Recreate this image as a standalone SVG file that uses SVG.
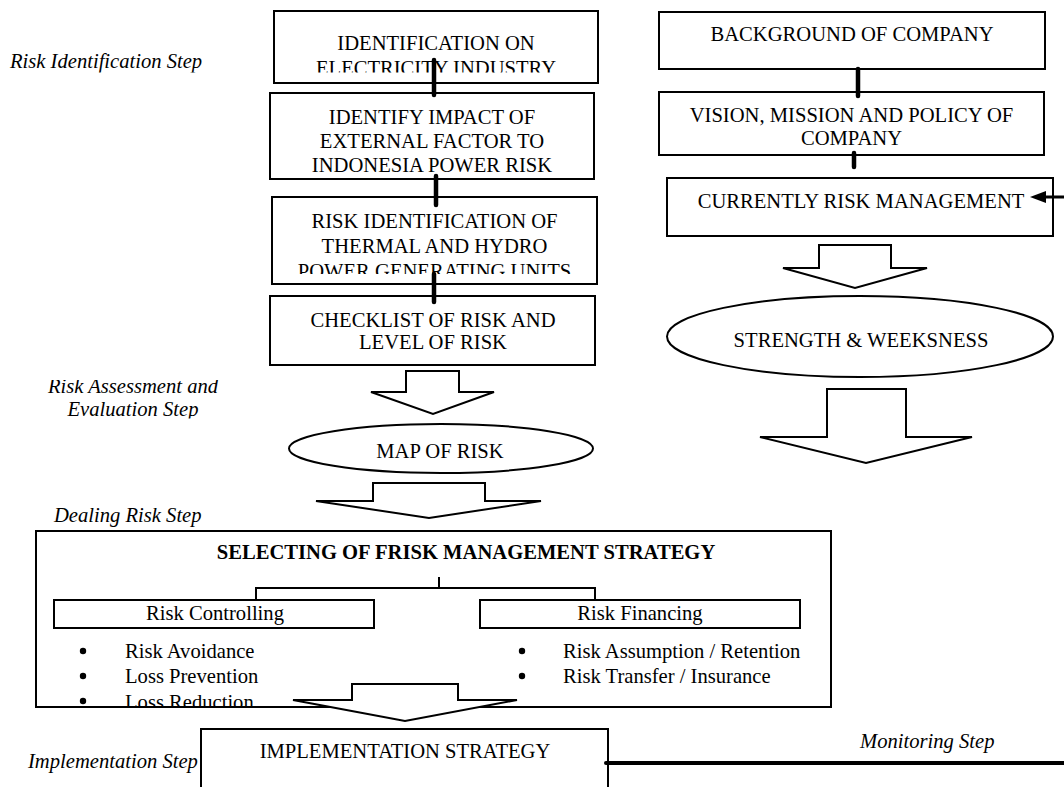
<svg xmlns="http://www.w3.org/2000/svg" width="1064" height="787" viewBox="0 0 1064 787">
<defs>
<style>
.box{fill:#fff;stroke:#000;stroke-width:2}
.t{font-family:"Liberation Serif","Times New Roman",serif;font-size:20.6px;fill:#000;text-anchor:middle}
.s{font-family:"Liberation Serif","Times New Roman",serif;font-size:20.6px;fill:#000}
.lbl{font-family:"Liberation Serif","Times New Roman",serif;font-size:20.6px;font-style:italic;fill:#000}
.b{font-weight:bold}
.conn{stroke:#000;stroke-width:4.5;stroke-linecap:round;fill:none}
.thin{stroke:#000;stroke-width:2;fill:none}
.barrow{fill:#fff;stroke:#000;stroke-width:2}
</style>
<clipPath id="clipTop"><rect x="0" y="0" width="1064" height="72.5"/></clipPath>
<clipPath id="clipB3"><rect x="0" y="190" width="1064" height="84"/></clipPath>
<clipPath id="clipEval"><rect x="0" y="380" width="260" height="38.5"/></clipPath>
<clipPath id="clipBig"><rect x="36" y="531" width="795" height="175"/></clipPath>
</defs>
<rect width="1064" height="787" fill="#fff"/>

<g id="labels">
<text class="lbl" x="10" y="68" clip-path="url(#clipTop)">Risk Identification Step</text>
<g clip-path="url(#clipEval)">
<text class="lbl" x="133" y="393" text-anchor="middle">Risk Assessment and</text>
<text class="lbl" x="133" y="416" text-anchor="middle">Evaluation Step</text>
</g>
<text class="lbl" x="54" y="522">Dealing Risk Step</text>
<text class="lbl" x="28" y="768">Implementation Step</text>
<text class="lbl" x="860" y="748">Monitoring Step</text>
</g>

<g id="n-identification">
<rect class="box" x="274" y="11" width="324" height="72"/>
<g clip-path="url(#clipTop)">
<text class="t" x="436" y="50">IDENTIFICATION ON</text>
<text class="t" x="436" y="75">ELECTRICITY INDUSTRY</text>
</g>
</g>

<g id="n-impact">
<rect class="box" x="270" y="93" width="324" height="86"/>
<text class="t" x="432" y="124">IDENTIFY IMPACT OF</text>
<text class="t" x="432" y="148">EXTERNAL FACTOR TO</text>
<text class="t" x="432" y="172">INDONESIA POWER RISK</text>
</g>

<g id="n-riskid">
<rect class="box" x="272" y="197" width="325" height="87"/>
<g clip-path="url(#clipB3)">
<text class="t" x="434.5" y="228">RISK IDENTIFICATION OF</text>
<text class="t" x="434.5" y="253">THERMAL AND HYDRO</text>
<text class="t" x="434.5" y="278">POWER GENERATING UNITS</text>
</g>
</g>

<g id="n-checklist">
<rect class="box" x="270" y="296" width="325" height="69"/>
<text class="t" x="433" y="327">CHECKLIST OF RISK AND</text>
<text class="t" x="433" y="349">LEVEL OF RISK</text>
</g>

<g id="n-map">
<ellipse class="box" cx="441" cy="448.5" rx="152" ry="24.5"/>
<text class="t" x="440" y="458">MAP OF RISK</text>
</g>

<g id="n-background">
<rect class="box" x="659" y="12" width="386" height="57"/>
<text class="t" x="852" y="41">BACKGROUND OF COMPANY</text>
</g>

<g id="n-vision">
<rect class="box" x="659" y="92" width="385" height="63"/>
<text class="t" x="851.5" y="122">VISION, MISSION AND POLICY OF</text>
<text class="t" x="851.5" y="145">COMPANY</text>
</g>

<g id="n-current">
<rect class="box" x="667" y="178" width="386" height="58"/>
<text class="t" x="861" y="208">CURRENTLY RISK MANAGEMENT</text>
</g>

<g id="n-strength">
<ellipse class="box" cx="860" cy="336.5" rx="193" ry="40.5"/>
<text class="t" x="861" y="347">STRENGTH &amp; WEEKSNESS</text>
</g>

<g id="n-selecting">
<rect class="box" x="36" y="531" width="795" height="176"/>
<text class="t b" x="466" y="559">SELECTING OF FRISK MANAGEMENT STRATEGY</text>
<path class="thin" d="M439,577 V588 M256,600 V588 H595 V600"/>
<rect class="box" x="54" y="600" width="320" height="28"/>
<text class="t" x="215" y="620">Risk Controlling</text>
<rect class="box" x="480" y="600" width="320" height="28"/>
<text class="t" x="640" y="620">Risk Financing</text>
<g clip-path="url(#clipBig)">
<circle cx="83" cy="651" r="3.2"/>
<circle cx="83" cy="676" r="3.2"/>
<circle cx="83" cy="701" r="3.2"/>
<text class="s" x="125" y="658">Risk Avoidance</text>
<text class="s" x="125" y="683">Loss Prevention</text>
<text class="s" x="125" y="709">Loss Reduction</text>
<circle cx="522" cy="651" r="3.2"/>
<circle cx="522" cy="676" r="3.2"/>
<text class="s" x="563" y="658">Risk Assumption / Retention</text>
<text class="s" x="563" y="683">Risk Transfer / Insurance</text>
</g>
</g>

<g id="n-implementation">
<rect class="box" x="201" y="729" width="407" height="70"/>
<text class="t" x="405" y="758">IMPLEMENTATION STRATEGY</text>
</g>

<g id="connectors">
<line class="conn" x1="434" y1="60" x2="434" y2="95"/>
<line class="conn" x1="436" y1="176" x2="436" y2="205"/>
<line class="conn" x1="434" y1="274" x2="434" y2="302"/>
<line class="conn" x1="858" y1="69" x2="858" y2="96"/>
<line class="conn" x1="854" y1="153" x2="854" y2="167"/>
<path class="barrow" d="M406,371 H459 V392 H494 L433,414 L371,392 H406 Z"/>
<path class="barrow" d="M373,483 H485 V501 H541 L429,518 L316,501 H373 Z"/>
<path class="barrow" d="M352,684 H458 V700 H517 L405,721 L293,700 H352 Z"/>
<path class="barrow" d="M819,245 H891 V268 H927 L855,288 L783,268 H819 Z"/>
<path class="barrow" d="M827,389 H906 V437 H972 L866,463 L760,437 H827 Z"/>
<line x1="1064" y1="197" x2="1043" y2="197" stroke="#000" stroke-width="3"/>
<polygon points="1030,197 1046,191 1046,203" fill="#000"/>
<line x1="606" y1="763" x2="1064" y2="763" stroke="#000" stroke-width="4" stroke-linecap="round"/>
</g>
</svg>
